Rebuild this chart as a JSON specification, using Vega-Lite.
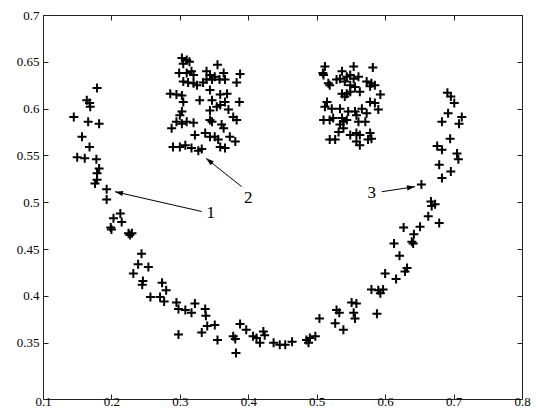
{
  "$schema": "https://vega.github.io/schema/vega-lite/v6.json",
  "width": 479,
  "height": 384,
  "autosize": {"type": "none"},
  "padding": {"left": 43, "top": 15, "right": 17, "bottom": 10},
  "background": "white",
  "config": {
    "view": {"stroke": "#222222", "strokeWidth": 1},
    "font": "Liberation Serif",
    "axis": {"labelFont": "Liberation Serif", "labelFontSize": 13, "labelColor": "black", "tickColor": "#222222", "domain": false, "grid": false, "title": null, "labelFlush": false, "labelOverlap": false}
  },
  "datasets": {
    "pts": [
      {"x":0.303,"y":0.654},{"x":0.310,"y":0.652},{"x":0.305,"y":0.648},{"x":0.314,"y":0.650},{"x":0.355,"y":0.647},{"x":0.299,"y":0.638},{"x":0.310,"y":0.638},{"x":0.317,"y":0.640},{"x":0.320,"y":0.636},{"x":0.339,"y":0.640},{"x":0.344,"y":0.636},{"x":0.351,"y":0.634},{"x":0.364,"y":0.638},{"x":0.388,"y":0.637},{"x":0.305,"y":0.629},{"x":0.312,"y":0.628},{"x":0.320,"y":0.627},{"x":0.325,"y":0.625},{"x":0.334,"y":0.628},{"x":0.339,"y":0.631},{"x":0.347,"y":0.631},{"x":0.358,"y":0.631},{"x":0.366,"y":0.631},{"x":0.383,"y":0.628},{"x":0.286,"y":0.616},{"x":0.295,"y":0.615},{"x":0.303,"y":0.614},{"x":0.305,"y":0.607},{"x":0.329,"y":0.609},{"x":0.344,"y":0.620},{"x":0.347,"y":0.609},{"x":0.359,"y":0.615},{"x":0.369,"y":0.616},{"x":0.366,"y":0.607},{"x":0.387,"y":0.607},{"x":0.303,"y":0.597},{"x":0.300,"y":0.593},{"x":0.344,"y":0.598},{"x":0.354,"y":0.602},{"x":0.359,"y":0.604},{"x":0.371,"y":0.599},{"x":0.378,"y":0.591},{"x":0.383,"y":0.588},{"x":0.295,"y":0.586},{"x":0.303,"y":0.584},{"x":0.310,"y":0.586},{"x":0.320,"y":0.585},{"x":0.288,"y":0.579},{"x":0.344,"y":0.588},{"x":0.347,"y":0.586},{"x":0.361,"y":0.583},{"x":0.364,"y":0.579},{"x":0.322,"y":0.572},{"x":0.337,"y":0.574},{"x":0.344,"y":0.570},{"x":0.351,"y":0.570},{"x":0.356,"y":0.567},{"x":0.373,"y":0.570},{"x":0.381,"y":0.565},{"x":0.359,"y":0.559},{"x":0.290,"y":0.559},{"x":0.300,"y":0.559},{"x":0.308,"y":0.561},{"x":0.317,"y":0.558},{"x":0.327,"y":0.555},{"x":0.332,"y":0.557},{"x":0.366,"y":0.558},
      {"x":0.512,"y":0.645},{"x":0.510,"y":0.636},{"x":0.509,"y":0.638},{"x":0.537,"y":0.640},{"x":0.554,"y":0.645},{"x":0.582,"y":0.644},{"x":0.534,"y":0.632},{"x":0.544,"y":0.634},{"x":0.549,"y":0.636},{"x":0.554,"y":0.632},{"x":0.561,"y":0.634},{"x":0.541,"y":0.629},{"x":0.519,"y":0.625},{"x":0.517,"y":0.627},{"x":0.529,"y":0.631},{"x":0.549,"y":0.625},{"x":0.556,"y":0.623},{"x":0.573,"y":0.629},{"x":0.580,"y":0.627},{"x":0.585,"y":0.625},{"x":0.563,"y":0.618},{"x":0.537,"y":0.616},{"x":0.544,"y":0.616},{"x":0.549,"y":0.618},{"x":0.541,"y":0.613},{"x":0.593,"y":0.615},{"x":0.578,"y":0.624},{"x":0.515,"y":0.607},{"x":0.512,"y":0.602},{"x":0.522,"y":0.600},{"x":0.534,"y":0.600},{"x":0.546,"y":0.597},{"x":0.556,"y":0.597},{"x":0.566,"y":0.600},{"x":0.578,"y":0.607},{"x":0.585,"y":0.606},{"x":0.590,"y":0.599},{"x":0.573,"y":0.595},{"x":0.510,"y":0.588},{"x":0.519,"y":0.588},{"x":0.524,"y":0.590},{"x":0.537,"y":0.590},{"x":0.539,"y":0.586},{"x":0.544,"y":0.588},{"x":0.534,"y":0.583},{"x":0.558,"y":0.593},{"x":0.561,"y":0.586},{"x":0.571,"y":0.586},{"x":0.532,"y":0.575},{"x":0.539,"y":0.579},{"x":0.549,"y":0.572},{"x":0.558,"y":0.574},{"x":0.563,"y":0.572},{"x":0.578,"y":0.574},{"x":0.580,"y":0.568},{"x":0.519,"y":0.567},{"x":0.527,"y":0.567},{"x":0.558,"y":0.565},{"x":0.563,"y":0.561},{"x":0.575,"y":0.567},
      {"x":0.179,"y":0.622},{"x":0.164,"y":0.609},{"x":0.168,"y":0.606},{"x":0.169,"y":0.602},{"x":0.145,"y":0.591},{"x":0.166,"y":0.586},{"x":0.182,"y":0.584},{"x":0.157,"y":0.570},{"x":0.168,"y":0.559},{"x":0.150,"y":0.548},{"x":0.161,"y":0.547},{"x":0.178,"y":0.546},{"x":0.182,"y":0.536},{"x":0.179,"y":0.531},{"x":0.179,"y":0.524},{"x":0.176,"y":0.520},{"x":0.193,"y":0.514},{"x":0.193,"y":0.503},{"x":0.213,"y":0.488},{"x":0.203,"y":0.483},{"x":0.215,"y":0.479},{"x":0.199,"y":0.473},{"x":0.200,"y":0.471},{"x":0.225,"y":0.467},{"x":0.230,"y":0.467},{"x":0.227,"y":0.465},
      {"x":0.244,"y":0.445},{"x":0.239,"y":0.434},{"x":0.254,"y":0.431},{"x":0.232,"y":0.424},{"x":0.246,"y":0.416},{"x":0.245,"y":0.412},{"x":0.274,"y":0.414},{"x":0.280,"y":0.406},{"x":0.257,"y":0.399},{"x":0.271,"y":0.399},{"x":0.277,"y":0.394},{"x":0.295,"y":0.393},{"x":0.298,"y":0.386},{"x":0.308,"y":0.385},{"x":0.317,"y":0.382},{"x":0.322,"y":0.392},{"x":0.337,"y":0.386},{"x":0.338,"y":0.379},{"x":0.340,"y":0.368},{"x":0.351,"y":0.369},{"x":0.332,"y":0.361},{"x":0.298,"y":0.359},{"x":0.355,"y":0.353},{"x":0.378,"y":0.357},{"x":0.381,"y":0.354},{"x":0.388,"y":0.370},{"x":0.397,"y":0.364},{"x":0.382,"y":0.339},
      {"x":0.407,"y":0.357},{"x":0.412,"y":0.355},{"x":0.422,"y":0.362},{"x":0.424,"y":0.358},{"x":0.417,"y":0.350},{"x":0.437,"y":0.350},{"x":0.446,"y":0.348},{"x":0.454,"y":0.348},{"x":0.464,"y":0.351},{"x":0.485,"y":0.353},{"x":0.488,"y":0.350},{"x":0.490,"y":0.355},{"x":0.498,"y":0.357},{"x":0.504,"y":0.376},{"x":0.527,"y":0.371},{"x":0.529,"y":0.385},{"x":0.533,"y":0.382},{"x":0.539,"y":0.364},{"x":0.551,"y":0.393},{"x":0.558,"y":0.392},{"x":0.554,"y":0.382},{"x":0.556,"y":0.376},{"x":0.588,"y":0.381},
      {"x":0.691,"y":0.617},{"x":0.696,"y":0.613},{"x":0.701,"y":0.606},{"x":0.692,"y":0.595},{"x":0.683,"y":0.586},{"x":0.712,"y":0.591},{"x":0.708,"y":0.584},{"x":0.695,"y":0.568},{"x":0.676,"y":0.560},{"x":0.683,"y":0.556},{"x":0.705,"y":0.552},{"x":0.707,"y":0.546},{"x":0.679,"y":0.540},{"x":0.696,"y":0.533},{"x":0.683,"y":0.526},{"x":0.653,"y":0.519},{"x":0.667,"y":0.501},{"x":0.673,"y":0.498},{"x":0.668,"y":0.496},{"x":0.663,"y":0.485},{"x":0.679,"y":0.478},{"x":0.627,"y":0.473},{"x":0.651,"y":0.474},{"x":0.642,"y":0.466},{"x":0.613,"y":0.456},{"x":0.639,"y":0.458},{"x":0.641,"y":0.456},{"x":0.621,"y":0.443},{"x":0.632,"y":0.430},{"x":0.629,"y":0.426},{"x":0.600,"y":0.424},{"x":0.616,"y":0.418},{"x":0.580,"y":0.407},{"x":0.590,"y":0.406},{"x":0.597,"y":0.407},{"x":0.593,"y":0.403}
    ],
    "arrows": [
      {"label":"1","x":0.3319,"y":0.4902,"x2":0.2052,"y2":0.5113,"angle":282.9,"tx":0.3451,"ty":0.4883},
      {"label":"2","x":0.3904,"y":0.5167,"x2":0.3382,"y2":0.5470,"angle":308.5,"tx":0.4000,"ty":0.5043},
      {"label":"3","x":0.5950,"y":0.5113,"x2":0.6436,"y2":0.5167,"angle":81.5,"tx":0.5804,"ty":0.5096}
    ]
  },
  "resolve": {"axis": {"x": "independent", "y": "independent"}},
  "layer": [
    {
      "data": {"name": "pts"},
      "mark": {"type": "point", "shape": "M-1,0L1,0M0,-1L0,1", "size": 81, "filled": false, "stroke": "black", "strokeWidth": 2, "opacity": 1},
      "encoding": {
        "x": {"field": "x", "type": "quantitative", "scale": {"domain": [0.1, 0.8], "nice": false, "zero": false},
          "axis": {"orient": "bottom", "values": [0.1,0.2,0.3,0.4,0.5,0.6,0.7,0.8], "format": ".1f", "tickSize": -5, "labelPadding": 1, "labelFont": "Liberation Serif", "labelFontSize": 13}},
        "y": {"field": "y", "type": "quantitative", "scale": {"domain": [0.29, 0.7], "nice": false, "zero": false},
          "axis": {"orient": "left", "values": [0.35,0.4,0.45,0.5,0.55,0.6,0.65,0.7], "format": ".2~f", "tickSize": -5, "labelPadding": 9, "labelFont": "Liberation Serif", "labelFontSize": 13}}
      }
    },
    {
      "data": {"name": "arrows"},
      "mark": {"type": "rule", "stroke": "black", "strokeWidth": 1},
      "encoding": {
        "x": {"field": "x", "type": "quantitative", "axis": {"orient": "top", "values": [0.1,0.2,0.3,0.4,0.5,0.6,0.7,0.8], "labels": false, "tickSize": -5}},
        "y": {"field": "y", "type": "quantitative", "axis": {"orient": "right", "values": [0.35,0.4,0.45,0.5,0.55,0.6,0.65,0.7], "labels": false, "tickSize": -5}},
        "x2": {"field": "x2"},
        "y2": {"field": "y2"}
      }
    },
    {
      "data": {"name": "arrows"},
      "mark": {"type": "point", "shape": "M0,0L-0.65,2L0.65,2Z", "size": 64, "filled": true, "fill": "black", "strokeWidth": 0, "opacity": 1},
      "encoding": {
        "x": {"field": "x2", "type": "quantitative", "axis": null},
        "y": {"field": "y2", "type": "quantitative", "axis": null},
        "angle": {"field": "angle", "type": "quantitative", "scale": null}
      }
    },
    {
      "data": {"name": "arrows"},
      "mark": {"type": "text", "font": "Liberation Serif", "fontSize": 17, "align": "center", "baseline": "middle", "color": "black"},
      "encoding": {
        "x": {"field": "tx", "type": "quantitative", "axis": null},
        "y": {"field": "ty", "type": "quantitative", "axis": null},
        "text": {"field": "label"}
      }
    }
  ]
}
